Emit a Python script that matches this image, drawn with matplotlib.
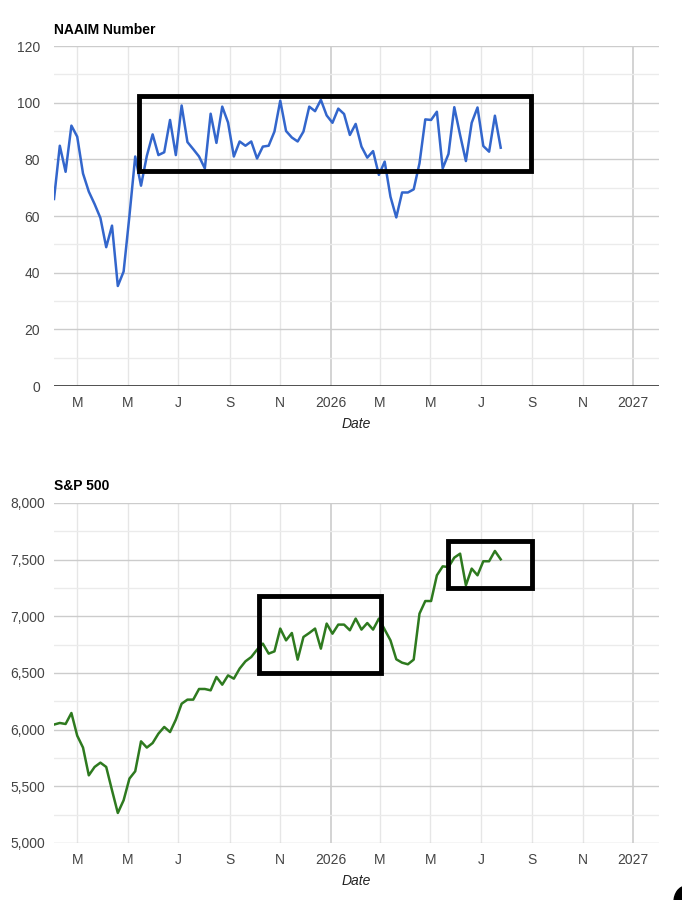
import matplotlib
matplotlib.use("Agg")
import matplotlib.pyplot as plt
import matplotlib.dates as mdates
from matplotlib.patches import Rectangle, Circle
import numpy as np
import pandas as pd

plt.rcParams['font.family'] = ['Liberation Sans', 'DejaVu Sans']

# weekly readings, Feb 2025 -> Jul 2026
dates = pd.date_range("2025-02-01", periods=78, freq="7D")

naaim = [66, 84.8, 75.6, 91.9, 88, 75, 68.6, 64.2, 59.3, 49, 56.6, 35.3, 40.4, 60,
         81, 70.7, 81.2, 88.8, 81.5, 82.5, 93.9, 81.5, 99, 86.1, 83.6, 81, 76.8,
         96.1, 85.8, 98.6, 93, 81, 86.3, 84.8, 86.3, 80.3, 84.5, 84.8, 89.8, 100.7,
         90, 87.7, 86.3, 89.8, 98.6, 97, 101, 95.5, 92.9, 97.9, 96, 88.6, 92.5, 84.5,
         80.6, 82.9, 74.5, 79.2, 66.8, 59.5, 68.3, 68.3, 69.4, 78.6, 94.1, 93.9,
         96.8, 76.8, 81.9, 98.4, 88.6, 79.4, 92.9, 98.3, 84.7, 82.7, 95.4, 84.1]

spx = [6045, 6059, 6050, 6147, 5947, 5842, 5597, 5671, 5709, 5671, 5465, 5265, 5377,
       5568, 5633, 5897, 5842, 5882, 5965, 6024, 5979, 6088, 6229, 6265, 6265, 6359,
       6359, 6347, 6465, 6397, 6479, 6450, 6539, 6603, 6641, 6706, 6759, 6671, 6691,
       6892, 6788, 6853, 6618, 6818, 6853, 6892, 6715, 6936, 6847, 6927, 6927, 6877,
       6980, 6883, 6941, 6883, 6980, 6883, 6788, 6621, 6591, 6577, 6618, 7024, 7135,
       7135, 7362, 7441, 7435, 7518, 7553, 7274, 7421, 7362, 7486, 7486, 7577, 7503]

tick_dates = pd.to_datetime(["2025-03-01", "2025-05-01", "2025-07-01", "2025-09-01",
                             "2025-11-01", "2026-01-01", "2026-03-01", "2026-05-01",
                             "2026-07-01", "2026-09-01", "2026-11-01", "2027-01-01"])
tick_labels = ["M", "M", "J", "S", "N", "2026", "M", "M", "J", "S", "N", "2027"]

# hand-drawn highlight boxes: (start, end, low, high)
naaim_boxes = [("2025-05-15", "2026-08-30", 75.8, 102.5)]
spx_boxes = [("2025-10-06", "2026-03-03", 6504, 7177),
             ("2026-05-23", "2026-09-01", 7250, 7662)]

fig = plt.figure(figsize=(6.82, 9.0), dpi=100)
ax1 = fig.add_axes([54/682, 1-386/900, 605/682, 340/900])
ax2 = fig.add_axes([54/682, 1-843/900, 605/682, 340/900])

xlim = (pd.Timestamp("2025-02-01"), pd.Timestamp("2027-02-01"))


def style(ax, major, minor, lo, hi, fmt, ypad):
    ax.set_xlim(*xlim)
    ax.set_ylim(lo, hi)
    for s in ax.spines.values():
        s.set_visible(False)
    ax.set_yticks(np.arange(lo, hi + 1, major))
    ax.set_yticks(np.arange(lo + minor, hi, major), minor=True)
    ax.set_yticklabels([fmt(v) for v in np.arange(lo, hi + 1, major)])
    ax.grid(True, which="major", axis="y", color="#cccccc", lw=1)
    ax.grid(True, which="minor", axis="y", color="#ebebeb", lw=1)
    for d in tick_dates:
        c = "#cccccc" if d.month == 1 else "#e6e6e6"
        ax.axvline(d, color=c, lw=1.2 if d.month == 1 else 1, zorder=0.5)
    ax.set_xticks(tick_dates)
    ax.set_xticklabels(tick_labels)
    ax.tick_params(axis="both", which="both", length=0, labelsize=10, colors="#444444")
    ax.tick_params(axis="y", pad=ypad)
    ax.tick_params(axis="x", pad=7)
    ax.set_axisbelow(True)
    ax.set_xlabel("Date", style="italic", fontsize=10, color="#222222", labelpad=5)


style(ax1, 20, 10, 0, 120, lambda v: f"{int(v)}", 10)
ax1.axhline(0, color="#333333", lw=1.2, zorder=1)
ax1.plot(dates, naaim, color="#3366cc", lw=1.8, zorder=3)
ax1.set_title("NAAIM Number", loc="left", fontsize=10, fontweight="bold", pad=9, x=0.0)

style(ax2, 500, 250, 5000, 8000, lambda v: f"{int(v):,}", 6.5)
ax2.plot(dates, spx, color="#2e7a1f", lw=1.8, zorder=3)
ax2.set_title("S&P 500", loc="left", fontsize=10, fontweight="bold", pad=9, x=0.0)

for ax, boxes in ((ax1, naaim_boxes), (ax2, spx_boxes)):
    for a, b, lo, hi in boxes:
        x0 = mdates.date2num(pd.Timestamp(a))
        x1 = mdates.date2num(pd.Timestamp(b))
        ax.add_patch(Rectangle((x0, lo), x1 - x0, hi - lo, fill=False,
                               ec="black", lw=3.5, zorder=4, joinstyle="miter"))

fig.patches.append(Circle((686/682, -2/900), 12/682, transform=fig.transFigure,
                          color="black", zorder=10))

fig.savefig("out.png", dpi=100)
